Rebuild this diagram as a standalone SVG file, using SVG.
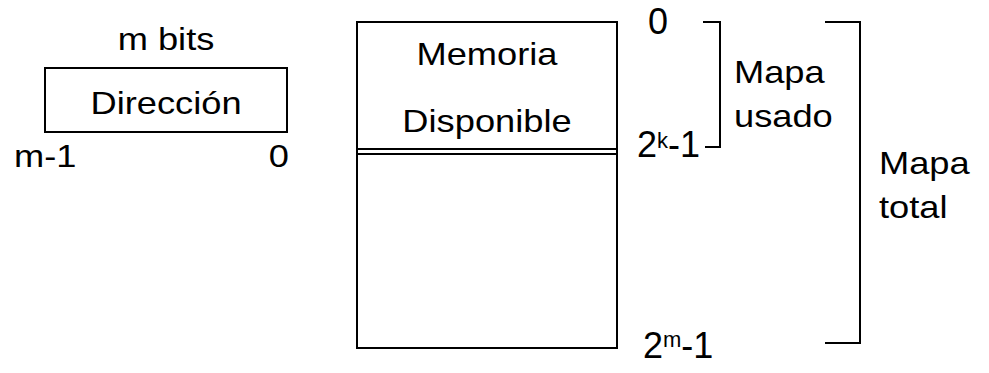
<svg xmlns="http://www.w3.org/2000/svg" width="989" height="373" viewBox="0 0 989 373">
  <style>
    .box { fill: #ffffff; stroke: #000000; stroke-width: 2; }
    .ln { fill: none; stroke: #000000; stroke-width: 2; }
    text { font-family: "Liberation Sans", Arial, sans-serif; font-size: 36px; fill: #000000; }
    .wide { font-size: 31px; }
    .mid { text-anchor: middle; }
    .end { text-anchor: end; }
    .sup { font-size: 22px; }
  </style>
  <rect width="989" height="373" fill="#ffffff"/>

  <!-- address register: wide labels are stretched horizontally -->
  <g id="direccion">
    <text class="wide mid" transform="translate(166,50) scale(1.17,1)">m bits</text>
    <rect class="box" x="45" y="68" width="242" height="64"/>
    <text class="wide mid" transform="translate(166,114) scale(1.17,1)">Dirección</text>
    <text class="wide" transform="translate(14,167) scale(1.17,1)">m-1</text>
    <text class="wide end" transform="translate(289,167) scale(1.17,1)">0</text>
  </g>

  <g id="memoria">
    <rect class="box" x="357" y="22" width="260" height="326"/>
    <line class="ln" x1="357" y1="149" x2="617" y2="149"/>
    <line class="ln" x1="357" y1="154" x2="617" y2="154"/>
    <text class="wide mid" transform="translate(487,65) scale(1.17,1)">Memoria</text>
    <text class="wide mid" transform="translate(487,132) scale(1.17,1)">Disponible</text>
  </g>

  <g id="direcciones">
    <text x="648" y="34">0</text>
    <text x="637" y="157">2<tspan class="sup" dy="-9">k</tspan><tspan dy="9">-1</tspan></text>
    <text x="643" y="358">2<tspan class="sup" dy="-11">m</tspan><tspan dy="11">-1</tspan></text>
  </g>

  <g id="mapa-usado">
    <text class="wide" transform="translate(734,83) scale(1.17,1)">Mapa</text>
    <text class="wide" transform="translate(734,127) scale(1.17,1)">usado</text>
  </g>

  <g id="mapa-total">
    <text class="wide" transform="translate(879,174) scale(1.17,1)">Mapa</text>
    <text class="wide" transform="translate(879,218) scale(1.17,1)">total</text>
  </g>

  <g id="connectors">
    <polyline class="ln" points="703,22 720,22 720,147 705,147"/>
    <polyline class="ln" points="825,22 860,22 860,343 825,343"/>
  </g>
</svg>
